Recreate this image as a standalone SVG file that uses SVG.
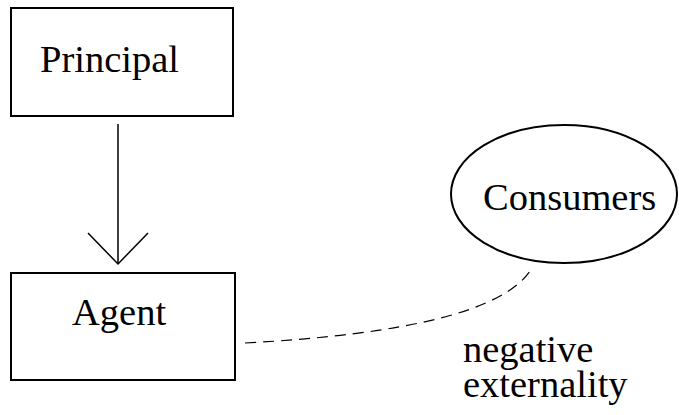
<svg xmlns="http://www.w3.org/2000/svg" width="679" height="415" viewBox="0 0 679 415">
<style>
.box{fill:#fff;stroke:#000;stroke-width:2}
.t{font-family:"Liberation Serif","Times New Roman",serif;font-size:38.5px;fill:#000}
.ln{fill:none;stroke:#000;stroke-width:1.5}
.dash{fill:none;stroke:#000;stroke-width:1.2;stroke-dasharray:11 7}
</style>
<g id="connectors">
<line class="ln" x1="118" y1="124" x2="118" y2="264"/>
<polyline class="ln" points="88,233 118,264 148,233"/>
<path class="dash" d="M245,343 Q490,330 530,271"/>
</g>
<g id="principal">
<rect class="box" x="11" y="8" width="222" height="108"/>
<text class="t" x="40" y="72">Principal</text>
</g>
<g id="agent">
<rect class="box" x="11" y="273" width="224" height="107"/>
<text class="t" x="72" y="325">Agent</text>
</g>
<g id="consumers">
<ellipse class="box" cx="564" cy="194" rx="113" ry="69"/>
<text class="t" x="483" y="210">Consumers</text>
</g>
<g id="label">
<text class="t" x="463" y="362">negative</text>
<text class="t" x="463" y="397">externality</text>
</g>
</svg>
